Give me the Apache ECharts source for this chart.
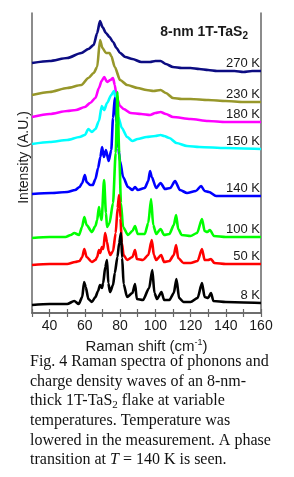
<!DOCTYPE html>
<html>
<head>
<meta charset="utf-8">
<script src="https://cdn.jsdelivr.net/npm/echarts@6/dist/echarts.min.js"></script>
<style>
html,body{margin:0;padding:0;background:#fff;}
#chart{width:294px;height:477px;}
</style>
</head>
<body>
<div id="chart"></div>
<script>
// Raman shift (cm^-1) and intensity (A.U., offset stacked)
const shift270 = [30,40,50,58,62,65,67,68.6,70,72,74,76,78,80,83,87,92,97,100,103,106,110,115,120,125,130,135,140,145,150,155,160];
const int270   = [250,252,255,260,264,268,280,292,286,280,276,271,265,260,256,254,251,251,252,252,249,246,245,245,244,243,242,242,242,241,242,242];

const shift230 = [30,40,50,58,62,65,67,68.6,70,72,74,75,77,80,84,90,95,99,103,106,110,115,120,130,140,150,160];
const int230   = [218,221,225,228,235,240,246,273,265,260,260,257,246,233,228,225,223,222,223,220,215,214,214,213,212,211,211];

const shift180 = [30,40,50,55,60,63,66,68,69.5,71,72.6,74.5,76,77,78,80,82,86,92,97,100,103,106,110,120,130,140,150,160];
const int180   = [196,199,202,203,206,210,215,225,232,236,231,233,235,228,216,207,204,200,199,198,200,201,199,196,194,192,191,191,191];

const shift150 = [30,40,50,57,60,62,64,66,68,69.6,71,72.6,75,76.5,77.5,79,81,84,87,90,95,100,103,105,108,112,118,125,140,160];
const int150   = [169,171,173,176,178,184,181,184,192,207,203,210,218,222,215,196,185,176,172,174,176,177,178,177,175,170,167,166,165,164];

const shift140 = [30,41,50,54.5,57,58.5,60,61,63,64.5,66,67.5,68.8,69.8,70.8,72,73.5,75,76,77,78,79,80,81.7,84.5,87,88.5,90,94,96,97,98,100.5,103,105.5,108.5,111.2,114,118,123,126,128,130.5,134.5,140,160];
const int140   = [119,120,121,123,126,130,138,131,128,128,134,145,156,166,156,163,152,163,195,215,190,165,152,136,126,123,126,123,125,132,142,136,125,130,124,125,132,123,120,122,127,122,121,117,117,117];

const shift100 = [30,40,49,52,54,56.7,58.4,59.7,61,64,66,67,68,68.5,69.5,70.9,72,72.6,74,76,77.5,78.5,79.5,80.5,81.7,84.5,87,88.5,90,94,96,97.6,98.8,100.5,103,105,108,110.5,111.8,113,115,120,123.7,126.5,128,129.5,131,133.3,140,160];
const int100   = [75,76,76,78,80,78,86,96,88,81,87,93,106,100,93,133,100,86,90,110,160,221,160,110,86,78,82,87,79,79,90,114,88,79,84,78,79,88,98,84,78,77,80,94,82,81,83,77,76,76];

const shift50 = [30,40,50,54.5,57,58.5,59.7,61,64,66,67,68,68.7,69.7,70.5,71.5,72.6,73.5,74.5,76,77.5,78.6,79.4,80.2,81,82,84,87,88.5,89.5,93,96,98,99.2,100.5,103.3,105,108,110.5,111.8,113,116,120,124,126.5,128,130,131.6,133.5,140,160];
const int50   = [48,49,49,51,52,56,64,56,51,53,56,63,60,66,64,80,71,62,58,62,80,105,118,95,70,58,53,56,63,54,53,58,73,58,53,58,51,52,58,68,55,50,50,52,64,53,53,54,50,49,49];

const shift8 = [30,40,50,54,56.5,58.5,59.6,60.5,62,64,66,67.5,68.6,69.7,70.4,71.6,72.6,73.3,74.3,76,77,78.5,79.5,80.5,81.2,82,84,87,88.5,89.5,93,96.5,98.3,99.5,101,103.5,105,108,110.5,112,113.5,116,120,124,126.5,128,130,131.6,133,140,160];
const int8   = [8,9,9,12,9,16,31,26,14,11,16,22,28,25,30,46,53,30,21,28,40,56,70,80,55,29,16,20,29,14,13,25,43,20,14,21,13,13,20,34,15,11,11,15,30,16,15,20,12,11,10];

const seriesNames  = ['270 K','230 K','180 K','150 K','140 K','100 K','50 K','8 K'];
const seriesColors = ['#0c0c82','#97972a','#ff00ff','#00ffff','#0000ff','#00ff00','#ff0000','#000000'];
const seriesShifts = [shift270, shift230, shift180, shift150, shift140, shift100, shift50, shift8];
const seriesInts   = [int270, int230, int180, int150, int140, int100, int50, int8];

const xTicks = [40,60,80,100,120,140,160];

const captionLines = [
  'Fig. 4 Raman spectra of phonons and',
  'charge density waves of an 8-nm-',
  'thick 1T-TaS{sub|2} flake at variable',
  'temperatures. Temperature was',
  'lowered in the measurement. A phase',
  'transition at {it|T} = 140 K is seen.'
];

const chart = echarts.init(document.getElementById('chart'), null, {renderer: 'canvas'});

const axisColor = '#666';
const textColor = '#1a1a1a';
const sans = 'Arial, "Liberation Sans", sans-serif';
const serif = '"Liberation Serif", "Times New Roman", serif';

const series = seriesNames.map((name, i) => ({
  name: name,
  type: 'line',
  data: seriesShifts[i].map((x, j) => [x, seriesInts[i][j]]),
  showSymbol: false,
  smooth: 0.25,
  smoothMonotone: 'x',
  lineStyle: {color: seriesColors[i], width: 2.6},
  itemStyle: {color: seriesColors[i]},
  endLabel: {
    show: true,
    formatter: '{a}',
    align: 'right',
    verticalAlign: 'bottom',
    offset: [-9, -1],
    color: textColor,
    fontFamily: sans,
    fontSize: 13
  },
  z: 2 + i
}));

const captionElems = captionLines.map((t, i) => ({
  type: 'text',
  left: 30,
  top: 354 + i * 19.6,
  style: {
    text: t,
    fill: '#111',
    font: '16px ' + serif,
    rich: {
      sub: {fontSize: 11, fontFamily: serif, fill: '#111', padding: [7, 0, 0, 0]},
      it: {fontSize: 16, fontStyle: 'italic', fontFamily: serif, fill: '#111'}
    }
  }
}));

const option = {
  animation: false,
  backgroundColor: '#fff',
  title: {
    text: '{b|8-nm 1T-TaS}{s|2}',
    right: 41,
    top: 19,
    textStyle: {
      rich: {
        b: {fontSize: 14, fontWeight: 'bold', color: textColor, fontFamily: sans},
        s: {fontSize: 10, fontWeight: 'bold', color: textColor, fontFamily: sans, padding: [7, 0, 0, 0]}
      }
    }
  },
  grid: {left: 32, right: 33, top: 13, bottom: 164},
  xAxis: [
    {
      type: 'value', min: 30, max: 160, interval: 10, position: 'bottom',
      axisLine: {show: true, lineStyle: {color: axisColor, width: 1.5}},
      axisTick: {show: true, inside: true, length: 4, lineStyle: {color: axisColor, width: 1.2}},
      axisLabel: {
        formatter: v => (xTicks.indexOf(v) >= 0 ? String(v) : ''),
        color: textColor, fontSize: 14, margin: 6, fontFamily: sans
      },
      splitLine: {show: false},
      name: '{a|Raman shift (cm}{s|-1}{a|)}',
      nameLocation: 'middle',
      nameGap: 20,
      nameTextStyle: {
        rich: {
          a: {fontSize: 15, color: textColor, fontFamily: sans},
          s: {fontSize: 9, color: textColor, fontFamily: sans, padding: [0, 0, 9, 0]}
        }
      }
    },
    {
      type: 'value', min: 30, max: 160, interval: 10, position: 'top',
      axisLine: {show: true, lineStyle: {color: axisColor, width: 1.5}},
      axisTick: {show: true, inside: true, length: 4, lineStyle: {color: axisColor, width: 1.2}},
      axisLabel: {show: false},
      splitLine: {show: false}
    }
  ],
  yAxis: [
    {
      type: 'value', min: 0, max: 300, position: 'left',
      axisLine: {show: true, lineStyle: {color: axisColor, width: 1.5}},
      axisTick: {show: false}, axisLabel: {show: false}, splitLine: {show: false},
      name: 'Intensity (A.U.)',
      nameLocation: 'middle',
      nameGap: 1,
      nameTextStyle: {fontSize: 14, color: textColor, fontFamily: sans, padding: [0, 0, 0, 11]}
    },
    {
      type: 'value', min: 0, max: 300, position: 'right',
      axisLine: {show: true, lineStyle: {color: axisColor, width: 1.5}},
      axisTick: {show: false}, axisLabel: {show: false}, splitLine: {show: false}
    }
  ],
  series: series,
  graphic: captionElems
};

chart.setOption(option);
</script>
</body>
</html>
